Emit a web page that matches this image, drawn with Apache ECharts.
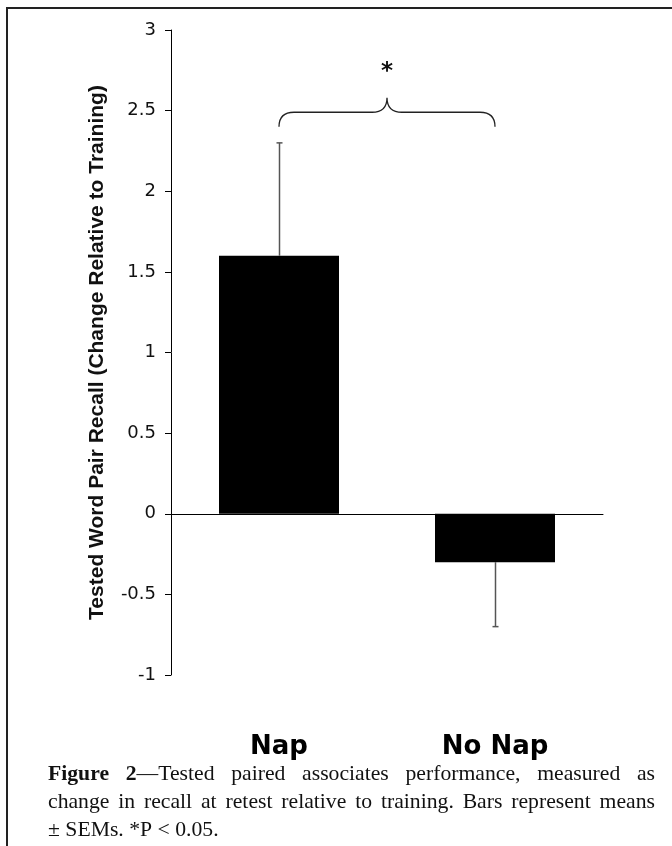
<!DOCTYPE html>
<html>
<head>
<meta charset="utf-8">
<script src="https://cdn.jsdelivr.net/npm/echarts@6/dist/echarts.min.js"></script>
<style>
html,body{margin:0;padding:0;background:#fff}
#c{width:672px;height:846px}
</style>
</head>
<body>
<div id="c"></div>
<script>
// ---- data ----
const categories = ['Nap', 'No Nap'];
const means = [1.6, -0.3];
const sems = [0.7, 0.4];
const yMin = -1, yMax = 3, yStep = 0.5;
const yAxisTitle = 'Tested Word Pair Recall (Change Relative to Training)';
const bracketSpan = [0, 1];              // category indices joined by the brace
const bracketLevels = [2.4, 2.49, 2.58]; // brace ends, brace bar, brace tip (axis units)
const bracketLabel = '*';
const bracketLabelLevel = 2.74;
const captionBold = 'Figure 2';
const captionLines = [
  'Figure 2\u2014Tested paired associates performance, measured as',
  'change in recall at retest relative to training. Bars represent means',
  '\u00b1 SEMs. *P < 0.05.'
];

// ---- caption layout (justified) ----
const capSize = 21.7;
const capFamily = '"Liberation Serif", "Times New Roman", serif';
const fReg = capSize + 'px ' + capFamily;
const fBold = 'bold ' + capSize + 'px ' + capFamily;
const mctx = document.createElement('canvas').getContext('2d');
function tw(t, f) { mctx.font = f; return mctx.measureText(t).width; }
const capLeft = 48, capRight = 655, capBase = [781, 809, 837];
const captionEls = [];
captionLines.forEach(function (line, li) {
  const words = line.split(' ');
  let offset = 0;
  const wordRuns = words.map(function (w) {
    const runs = [];
    let cur = '', curBold = null;
    for (let k = 0; k < w.length; k++) {
      const isBold = li === 0 && (offset + k) < captionBold.length;
      if (curBold !== null && isBold !== curBold) { runs.push({t: cur, b: curBold}); cur = ''; }
      cur += w[k]; curBold = isBold;
    }
    if (cur) runs.push({t: cur, b: curBold});
    offset += w.length + 1;
    runs.forEach(function (r) { r.w = tw(r.t, r.b ? fBold : fReg); });
    return runs;
  });
  const widths = wordRuns.map(function (rs) { return rs.reduce(function (s, r) { return s + r.w; }, 0); });
  const total = widths.reduce(function (s, v) { return s + v; }, 0);
  const justify = li < captionLines.length - 1;
  const gap = justify ? (capRight - capLeft - total) / (words.length - 1) : tw(' ', fReg);
  let x = capLeft;
  wordRuns.forEach(function (rs) {
    rs.forEach(function (r) {
      captionEls.push({
        type: 'text', x: x, y: capBase[li] - 7,
        style: {text: r.t, font: r.b ? fBold : fReg, fill: '#111', align: 'left', verticalAlign: 'middle'}
      });
      x += r.w;
    });
    x += gap;
  });
});

// ---- custom renderers ----
function renderErr(params, api) {
  const i = api.value(0), m = api.value(1), s = api.value(2);
  const end = m >= 0 ? m + s : m - s;
  const p0 = api.coord([i, m]);
  const p1 = api.coord([i, end]);
  const x = Math.round(p0[0]) + 0.5;
  const st = {stroke: '#555', lineWidth: 1.5};
  return {type: 'group', children: [
    {type: 'line', shape: {x1: x, y1: p0[1], x2: x, y2: p1[1]}, style: st},
    {type: 'line', shape: {x1: x - 3, y1: p1[1], x2: x + 3, y2: p1[1]}, style: st}
  ]};
}
function renderBracket(params, api) {
  const a = api.coord([bracketSpan[0], bracketLevels[0]]);
  const b = api.coord([bracketSpan[1], bracketLevels[0]]);
  const yH = api.coord([bracketSpan[0], bracketLevels[1]])[1];
  const yP = api.coord([bracketSpan[0], bracketLevels[2]])[1];
  const yL = api.coord([bracketSpan[0], bracketLabelLevel])[1];
  const xL = a[0], xR = b[0], yB = a[1], xM = (xL + xR) / 2;
  const r = 15;
  const d = 'M' + xL + ',' + yB + ' Q' + xL + ',' + yH + ' ' + (xL + r) + ',' + yH +
            ' L' + (xM - r) + ',' + yH + ' Q' + xM + ',' + yH + ' ' + xM + ',' + yP +
            ' Q' + xM + ',' + yH + ' ' + (xM + r) + ',' + yH +
            ' L' + (xR - r) + ',' + yH + ' Q' + xR + ',' + yH + ' ' + xR + ',' + yB;
  return {type: 'group', children: [
    {type: 'path', shape: {pathData: d}, style: {fill: 'none', stroke: '#222', lineWidth: 1.3}},
    {type: 'text', x: xM, y: yL, style: {text: bracketLabel, font: 'bold 23px "DejaVu Sans"', fill: '#111', align: 'center', verticalAlign: 'middle'}}
  ]};
}

const chart = echarts.init(document.getElementById('c'), null, {renderer: 'canvas'});
chart.setOption({
  animation: false,
  backgroundColor: '#fff',
  grid: {left: 171, right: 69, top: 30, bottom: 171, containLabel: false},
  xAxis: [
    {
      type: 'category', data: categories,
      axisLine: {onZero: true, lineStyle: {color: '#000', width: 1}},
      axisTick: {show: false}, axisLabel: {show: false}, splitLine: {show: false}
    },
    {
      type: 'category', data: categories, position: 'bottom',
      axisLine: {show: false, onZero: false}, axisTick: {show: false}, splitLine: {show: false},
      axisLabel: {margin: 59, fontFamily: 'DejaVu Sans', fontWeight: 'bold', fontSize: 26, color: '#000'}
    }
  ],
  yAxis: {
    type: 'value', min: yMin, max: yMax, interval: yStep,
    name: yAxisTitle, nameLocation: 'middle', nameRotate: 90, nameGap: 63,
    nameTextStyle: {fontFamily: 'Liberation Sans', fontWeight: 'bold', fontSize: 21, color: '#111'},
    axisLine: {show: true, lineStyle: {color: '#000', width: 1}},
    axisTick: {show: true, length: 6, lineStyle: {color: '#000'}},
    axisLabel: {margin: 15, fontFamily: 'DejaVu Sans', fontSize: 18, color: '#111'},
    splitLine: {show: false}
  },
  series: [
    {type: 'bar', xAxisIndex: 0, data: means, barWidth: 120, itemStyle: {color: '#000'}, z: 2},
    {type: 'custom', xAxisIndex: 0, renderItem: renderErr, clip: false, z: 3,
     data: categories.map(function (c, i) { return [i, means[i], sems[i]]; })},
    {type: 'custom', xAxisIndex: 0, renderItem: renderBracket, clip: false, z: 3,
     data: [[bracketSpan[0], bracketLevels[0]]]}
  ],
  graphic: [
    {type: 'line', shape: {x1: 6, y1: 8, x2: 672, y2: 8}, style: {stroke: '#222', lineWidth: 2}, silent: true},
    {type: 'line', shape: {x1: 7, y1: 7, x2: 7, y2: 846}, style: {stroke: '#222', lineWidth: 2}, silent: true}
  ].concat(captionEls)
});
</script>
</body>
</html>
